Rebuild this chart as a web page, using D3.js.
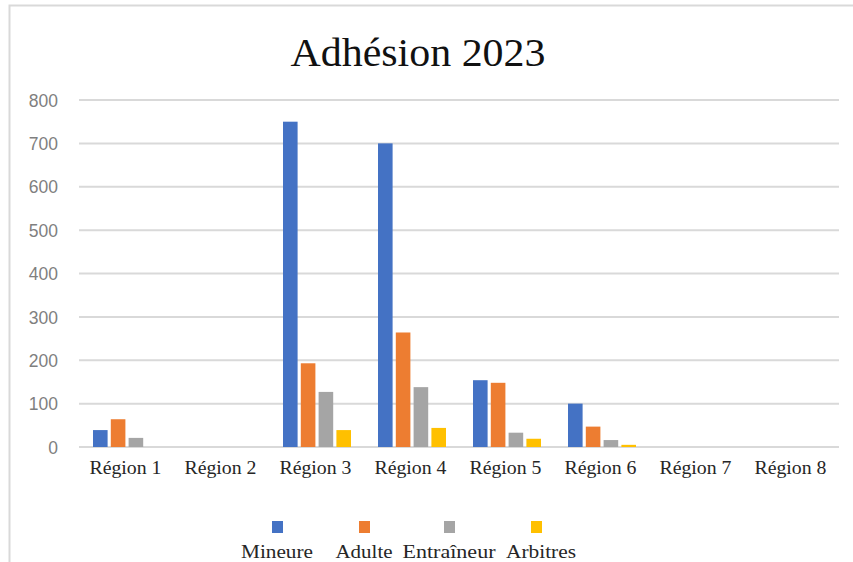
<!DOCTYPE html>
<html>
<head>
<meta charset="utf-8">
<script src="https://cdn.jsdelivr.net/npm/d3@7"></script>
<style>
  html, body { margin: 0; padding: 0; background: #fff; }
  svg { display: block; }
</style>
</head>
<body>
<script>
const regions = ["Région 1","Région 2","Région 3","Région 4","Région 5","Région 6","Région 7","Région 8"];
const seriesNames = ["Mineure","Adulte","Entraîneur","Arbitres"];
const mineure    = [39, 0, 750, 700, 154, 100, 0, 0];
const adulte     = [64, 0, 193, 264, 148, 47, 0, 0];
const entraineur = [21, 0, 127, 138, 33, 16, 0, 0];
const arbitres   = [0, 0, 39, 44, 19, 5, 0, 0];
const yTicks = [0,100,200,300,400,500,600,700,800];
const colors = ["#4472C4","#ED7D31","#A5A5A5","#FFC000"];
const title = "Adhésion 2023";

const W = 853, H = 562;
const seriesValues = [mineure, adulte, entraineur, arbitres];

const svg = d3.select("body").append("svg").attr("width", W).attr("height", H);

// chart frame (top & left edges visible)
svg.append("rect").attr("x", 9.5).attr("y", 5.5).attr("width", 900).attr("height", 700)
  .attr("fill", "#fff").attr("stroke", "#d9d9d9").attr("stroke-width", 2);

const x = d3.scaleBand().domain(regions).range([79, 839]).paddingInner(0).paddingOuter(0);
const y = d3.scaleLinear().domain([0, 800]).range([447, 100]);
const xi = d3.scaleBand().domain(seriesNames).range([14, 82]).paddingInner(0.18).paddingOuter(0);

// title
svg.append("text").attr("x", 418).attr("y", 66).attr("text-anchor", "middle")
  .attr("font-family", "'Liberation Serif', serif").attr("font-size", 40)
  .attr("fill", "#111").attr("textLength", 255).attr("lengthAdjust", "spacingAndGlyphs")
  .text(title);

// gridlines
svg.append("g").selectAll("line").data(yTicks).join("line")
  .attr("x1", 79).attr("x2", 839)
  .attr("y1", d => y(d)).attr("y2", d => y(d))
  .attr("stroke", "#d9d9d9").attr("stroke-width", 2);

// y axis labels
const yAxis = d3.axisLeft(y).tickValues(yTicks).tickSize(0).tickPadding(0);
const gy = svg.append("g").attr("transform", "translate(58,0)").call(yAxis);
gy.select(".domain").remove();
gy.selectAll("text").attr("font-family", "'Liberation Sans', Arial, sans-serif")
  .attr("font-size", 17.5).attr("fill", "#7f7f7f").attr("dy", "0.35em");

// bars
const groups = svg.append("g").selectAll("g").data(regions).join("g")
  .attr("transform", d => `translate(${x(d)},0)`);
groups.selectAll("rect")
  .data((r, i) => seriesNames.map((s, k) => ({ s, k, v: seriesValues[k][i] })).filter(d => d.v > 0))
  .join("rect")
  .attr("x", d => xi(d.s))
  .attr("width", xi.bandwidth())
  .attr("y", d => y(d.v))
  .attr("height", d => y(0) - y(d.v))
  .attr("fill", d => colors[d.k]);

// x axis labels
const xAxis = d3.axisBottom(x).tickSize(0).tickPadding(0);
const gx = svg.append("g").attr("transform", "translate(-1,474)").call(xAxis);
gx.select(".domain").remove();
gx.selectAll("text").attr("dy", 0)
  .attr("font-family", "'Liberation Serif', serif").attr("font-size", 18).attr("fill", "#262626")
  .attr("textLength", 72).attr("lengthAdjust", "spacingAndGlyphs");

// legend
const legendCenters = [277, 364, 449, 541];
const legendWidths = [72, 57, 93, 70];
const leg = svg.append("g").selectAll("g").data(seriesNames).join("g")
  .attr("transform", (d, i) => `translate(${legendCenters[i]},0)`);
leg.append("rect").attr("x", (d, i) => i === 3 ? -10 : -5).attr("y", 521).attr("width", 11).attr("height", 12)
  .attr("fill", (d, i) => colors[i]);
leg.append("text").attr("y", 558).attr("text-anchor", "middle")
  .attr("font-family", "'Liberation Serif', serif").attr("font-size", 18).attr("fill", "#262626")
  .attr("textLength", (d, i) => legendWidths[i]).attr("lengthAdjust", "spacingAndGlyphs")
  .text(d => d);
</script>
</body>
</html>
